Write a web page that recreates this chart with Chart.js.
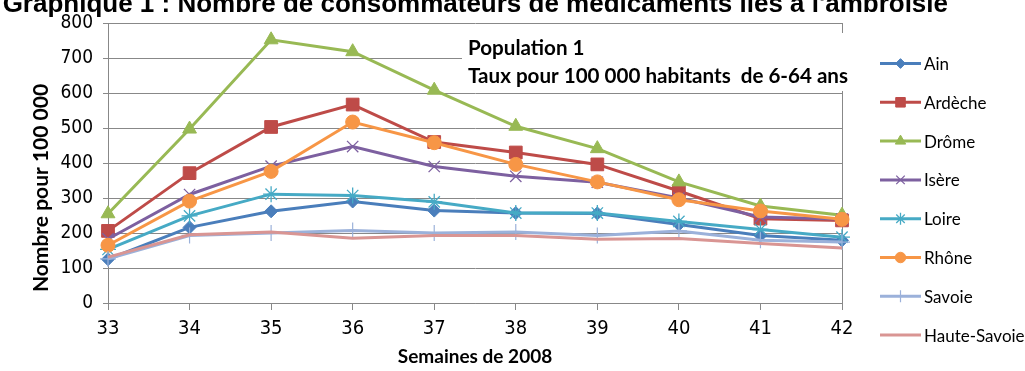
<!DOCTYPE html>
<html>
<head>
<meta charset="utf-8">
<script src="https://cdn.jsdelivr.net/npm/chart.js@4/dist/chart.umd.min.js"></script>
<style>
  html, body { margin: 0; padding: 0; background: #fff; overflow: hidden; }
  canvas { display: block; }
</style>
</head>
<body>
<canvas id="chart" width="1025" height="371"></canvas>
<script>
// Semaines 33 à 42 de 2008
const weeks = ['33', '34', '35', '36', '37', '38', '39', '40', '41', '42'];

// Taux pour 100 000 habitants de 6-64 ans, par département
const ain         = [125, 216, 262, 290, 264, 257, 256, 224, 193, 179];
const ardeche     = [206, 371, 503, 567, 460, 430, 396, 320, 241, 236];
const drome       = [255, 497, 752, 718, 608, 505, 441, 346, 277, 251];
const isere       = [183, 310, 391, 447, 390, 362, 345, 300, 246, 240];
const loire       = [153, 249, 311, 307, 289, 257, 257, 233, 210, 188];
const rhone       = [165, 291, 376, 517, 458, 396, 346, 295, 263, 239];
const savoie      = [126, 193, 200, 207, 200, 203, 193, 206, 179, 174];
const hauteSavoie = [131, 195, 203, 185, 193, 193, 182, 184, 170, 157];

const seriesNames = ['Ain', 'Ardèche', 'Drôme', 'Isère', 'Loire', 'Rhône', 'Savoie', 'Haute-Savoie'];
const seriesValues = [ain, ardeche, drome, isere, loire, rhone, savoie, hauteSavoie];

const yMin = 0, yMax = 800, yStep = 100;

const titleText = "Graphique 1 : Nombre de consommateurs de médicaments liés à l'ambroisie";
const boxLines = ['Population 1', 'Taux pour 100 000 habitants  de 6-64 ans'];
const xTitle = 'Semaines de 2008';
const yTitle = 'Nombre pour 100 000';

// Look of each series: colour, marker
const styles = [
  { color: '#4A7EBB', point: 'rectRot',  radius: 6.5, bw: 1 },
  { color: '#BE4B48', point: 'rect',     radius: 9,   bw: 1 },
  { color: '#98B954', point: 'triangle', radius: 8,   bw: 1 },
  { color: '#7D60A0', point: 'crossRot', radius: 8,   bw: 1.3 },
  { color: '#46AAC5', point: 'star',     radius: 8,   bw: 1.3 },
  { color: '#F79646', point: 'circle',   radius: 7,   bw: 1 },
  { color: '#9BB1DA', point: 'cross',    radius: 8,   bw: 1.2 },
  { color: '#D99593', point: false,      radius: 0,   bw: 0 }
];

const GRID = '#888888';
const TICK_FONT = "'Liberation Sans Narrow', 'DejaVu Sans Condensed', 'Liberation Sans', sans-serif";
const TEXT_FONT = "Lato, 'Open Sans', sans-serif";

const datasets = seriesNames.map((name, i) => ({
  label: name,
  data: seriesValues[i],
  borderColor: styles[i].color,
  backgroundColor: styles[i].color,
  borderWidth: 3,
  pointStyle: styles[i].point,
  pointRadius: styles[i].radius,
  pointBorderWidth: styles[i].bw,
  pointBackgroundColor: styles[i].color,
  pointBorderColor: styles[i].color,
  tension: 0,
  fill: false,
  order: seriesNames.length - i
}));

// Legend on the right: line sample with marker, then the name
const sideLegend = {
  id: 'sideLegend',
  afterDraw(chart) {
    const ctx = chart.ctx;
    const x0 = chart.chartArea.right + 38, x1 = x0 + 41, tx = x1 + 3;
    const top = 63.5, step = 38.8;
    chart.data.datasets.forEach((ds, i) => {
      const y = top + i * step;
      ctx.save();
      ctx.strokeStyle = ds.borderColor;
      ctx.lineWidth = 3;
      ctx.beginPath();
      ctx.moveTo(x0, y);
      ctx.lineTo(x1, y);
      ctx.stroke();
      if (ds.pointStyle) {
        ctx.fillStyle = ds.pointBackgroundColor;
        ctx.strokeStyle = ds.pointBorderColor;
        ctx.lineWidth = ds.pointBorderWidth;
        Chart.helpers.drawPoint(ctx, {
          pointStyle: ds.pointStyle,
          radius: ds.pointRadius * 0.75,
          rotation: 0,
          borderWidth: ds.pointBorderWidth
        }, (x0 + x1) / 2, y);
      }
      ctx.fillStyle = '#000';
      ctx.font = '17px ' + TEXT_FONT;
      ctx.textAlign = 'left';
      ctx.textBaseline = 'middle';
      ctx.fillText(ds.label, tx, y + 1);
      ctx.restore();
    });
  }
};

// Text box in the plot, vertical axis title and the heading of the figure
const annotations = {
  id: 'annotations',
  afterDraw(chart) {
    const ctx = chart.ctx;
    ctx.save();
    ctx.fillStyle = '#fff';
    ctx.fillRect(462, 33, 392, 58);
    ctx.fillStyle = '#000';
    ctx.font = 'bold 20.6px ' + TEXT_FONT;
    ctx.textAlign = 'left';
    ctx.textBaseline = 'middle';
    ctx.fillText(boxLines[0], 468, 48);
    ctx.fillText(boxLines[1], 468, 76);

    ctx.save();
    ctx.translate(41, 188);
    ctx.rotate(-Math.PI / 2);
    ctx.textAlign = 'center';
    ctx.font = 'bold 21px ' + TEXT_FONT;
    ctx.fillText(yTitle, 0, 0);
    ctx.restore();

    ctx.font = 'bold 26px ' + "'Liberation Sans', Arial, sans-serif";
    ctx.textAlign = 'right';
    ctx.textBaseline = 'alphabetic';
    ctx.fillText(titleText, 948, 12);
    ctx.restore();
  }
};

new Chart(document.getElementById('chart'), {
  type: 'line',
  data: { labels: weeks, datasets },
  options: {
    responsive: false,
    animation: false,
    events: [],
    layout: { padding: { top: 23, right: 183, left: 0, bottom: 0 } },
    plugins: { legend: { display: false }, tooltip: { enabled: false } },
    scales: {
      x: {
        type: 'category',
        offset: false,
        grid: {
          drawOnChartArea: true,
          color: c => (c.index === weeks.length - 1 ? GRID : 'rgba(0,0,0,0)'),
          tickColor: GRID,
          tickLength: 7,
          lineWidth: 1
        },
        border: { color: GRID, width: 1 },
        ticks: {
          color: '#000',
          font: { family: TICK_FONT, size: 20 },
          padding: 7,
          maxRotation: 0,
          autoSkip: false
        },
        title: {
          display: true,
          text: xTitle,
          color: '#000',
          font: { family: TEXT_FONT, weight: 'bold', size: 19 },
          padding: { top: 0, bottom: 3 }
        },
        afterFit(s) { s.height = 68; s.paddingLeft = 0; s.paddingRight = 0; }
      },
      y: {
        min: yMin,
        max: yMax,
        ticks: {
          stepSize: yStep,
          color: '#000',
          font: { family: TICK_FONT, size: 19 },
          padding: 10
        },
        grid: { color: GRID, tickColor: GRID, tickLength: 5, lineWidth: 1 },
        border: { color: GRID, width: 1 },
        afterFit(s) { s.width = 108; s.paddingTop = 0; s.paddingBottom = 0; }
      }
    }
  },
  plugins: [sideLegend, annotations]
});
</script>
</body>
</html>
